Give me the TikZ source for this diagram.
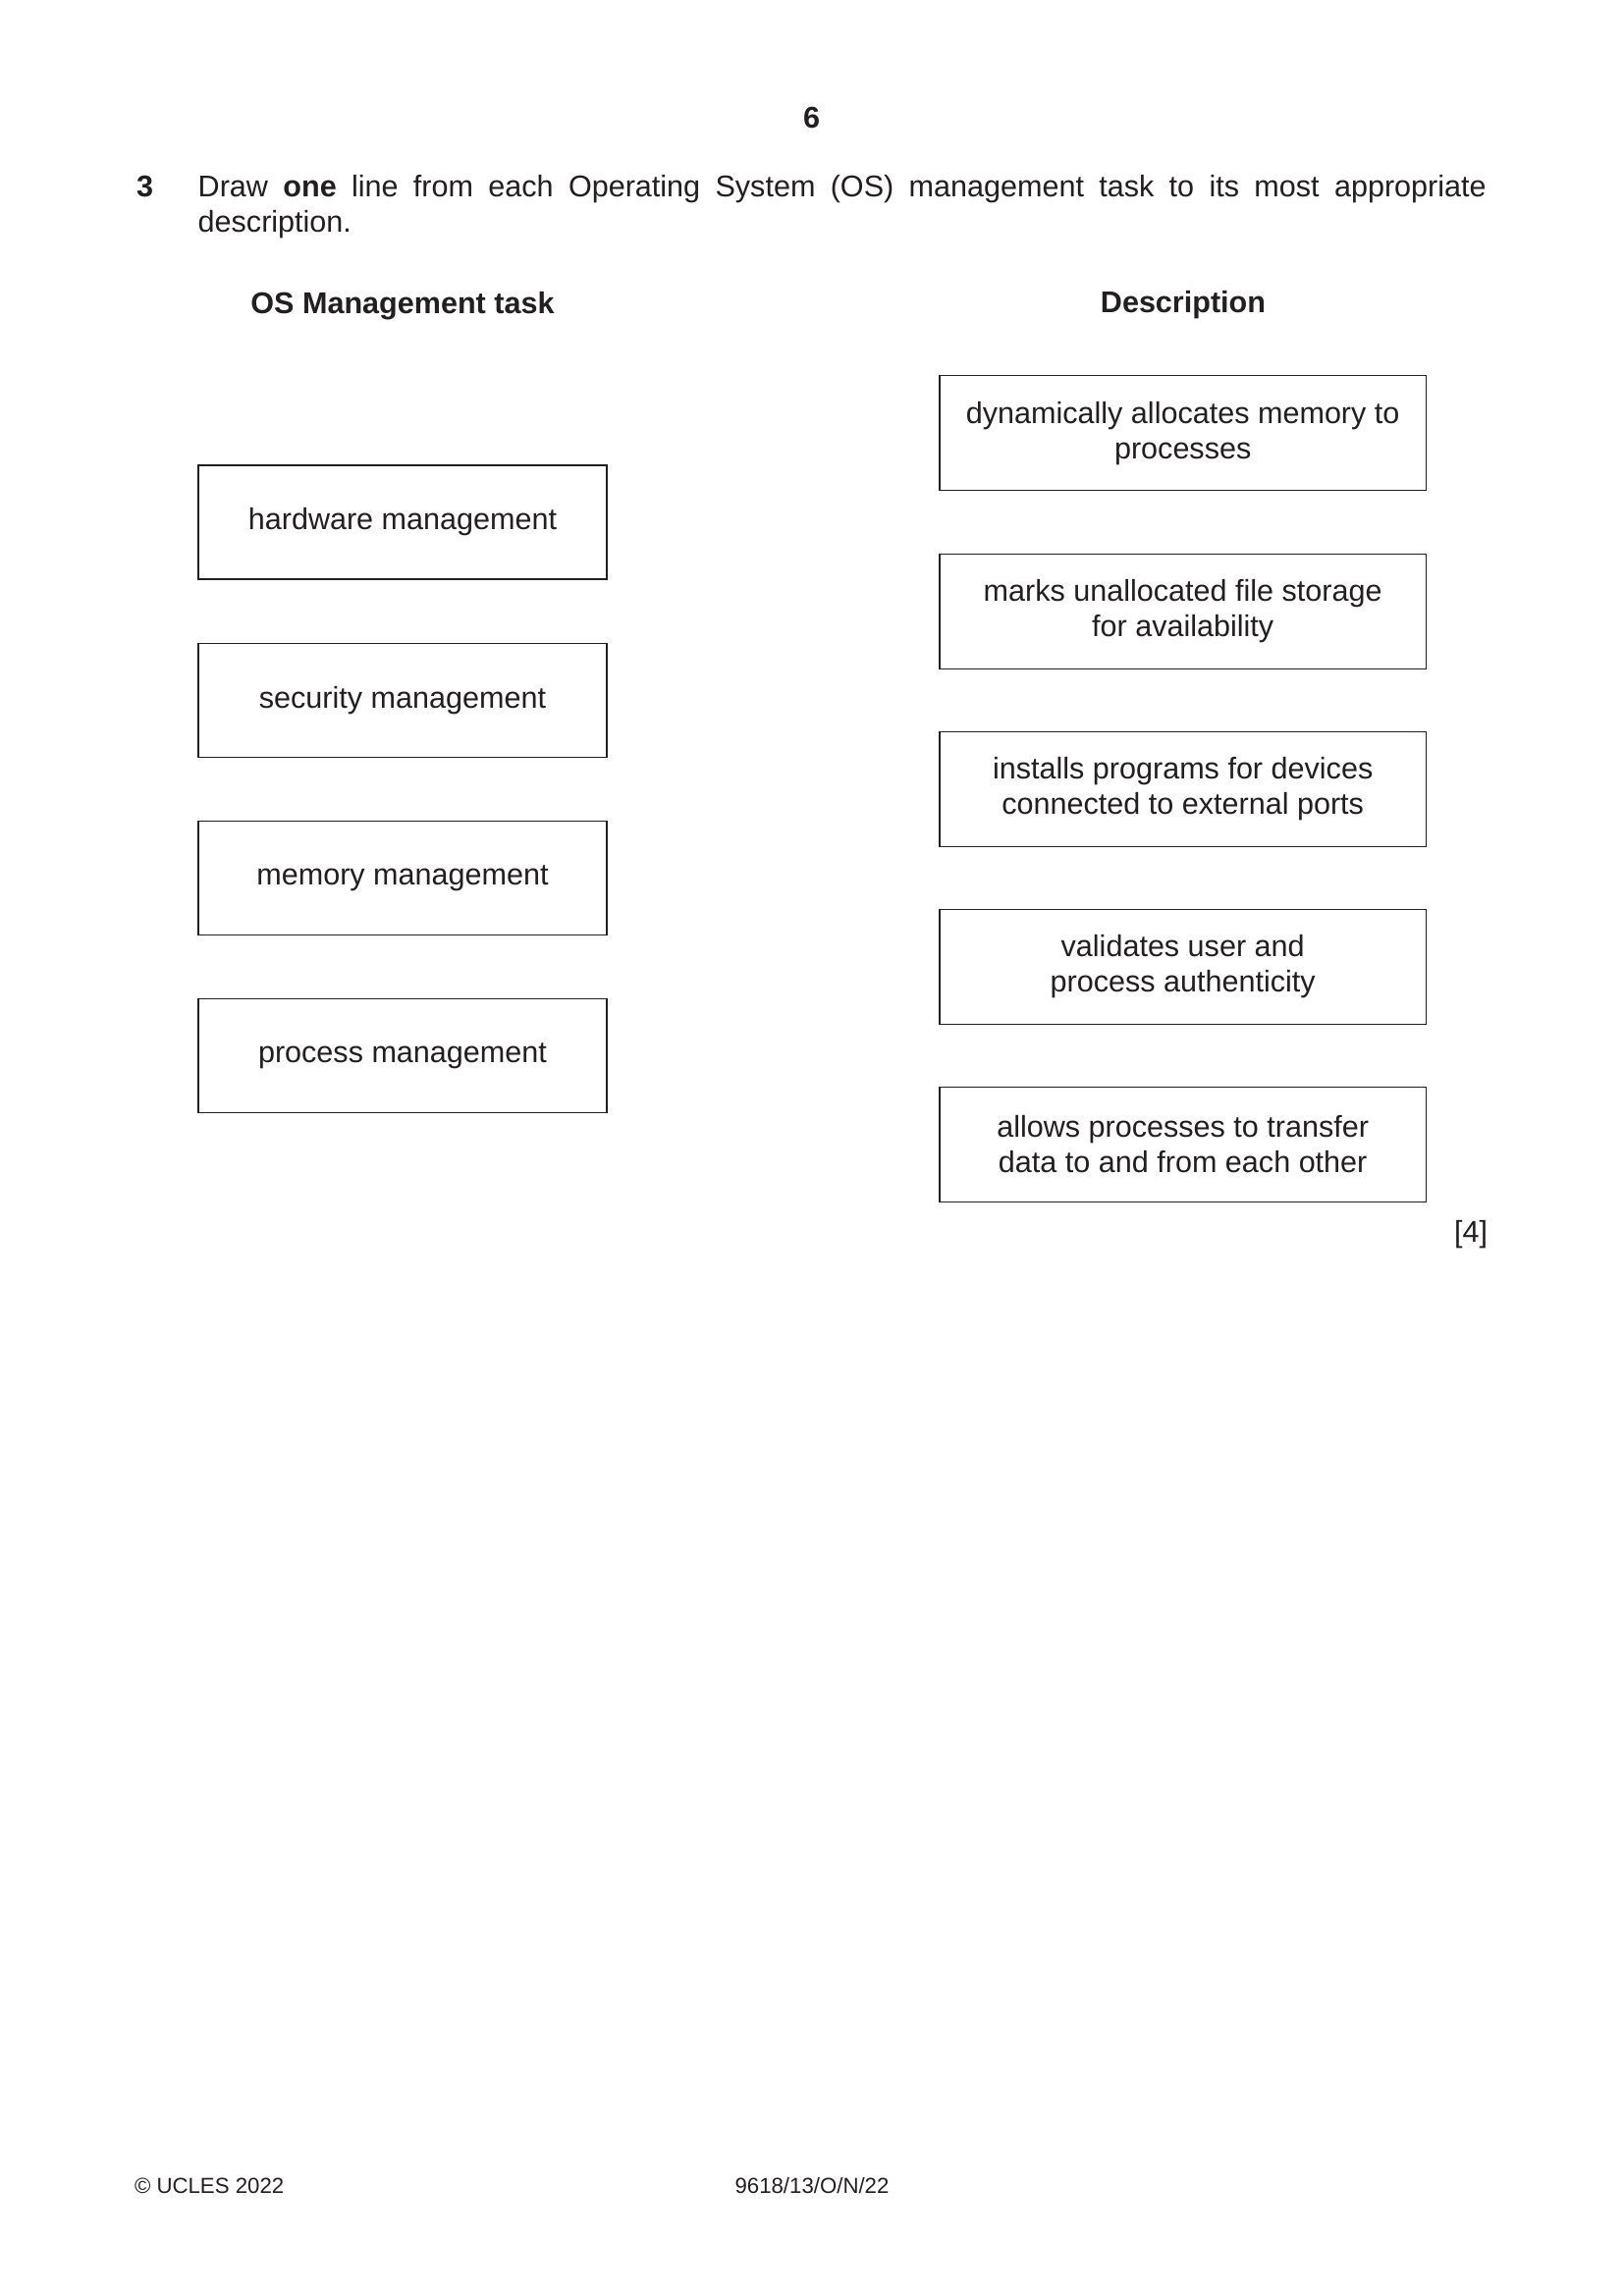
\documentclass[tikz,border=0pt]{standalone}
\usepackage{fontspec}
\setmainfont{Liberation Sans}
\definecolor{ink}{HTML}{231F20}
\begin{document}
\begin{tikzpicture}[x=0.3599pt,y=-0.3599pt,
  every node/.style={text=ink, inner sep=0pt, outer sep=0pt},
  body/.style={font=\fontsize{11}{13.2}\selectfont},
  head/.style={font=\fontsize{11}{13.2}\selectfont\bfseries},
  foot/.style={font=\fontsize{8}{9.6}\selectfont},
  taskbox/.style={draw=ink, line width=0.5pt, minimum width=149.7pt, minimum height=41.75pt,
    align=center, font=\fontsize{11}{12.9}\selectfont},
  descbox/.style={draw=ink, line width=0.5pt, minimum width=178.2pt, minimum height=42.1pt,
    align=center, font=\fontsize{11}{12.9}\selectfont}]
\useasboundingbox[fill=white] (0,0) rectangle (1654,2339);

\node[head, anchor=base] (pg) at (826.7,130.7) {6};
\node[head, anchor=base west] (qn) at (139,200) {3};
\node[body, anchor=base west, text width=472.2pt, align=justify] (qt) at (201.7,200)
  {Draw \textbf{one} line from each Operating System (OS) management task to its most appropriate\linebreak description.};

\node[head, anchor=base] (lh) at (410,319) {OS Management task};
\node[head, anchor=base] (rh) at (1205,318) {Description};

\node[taskbox] (t1) at (410,532) {hardware management};
\node[taskbox] (t2) at (410,713.2) {security management};
\node[taskbox] (t3) at (410,894.3) {memory management};
\node[taskbox] (t4) at (410,1075.4) {process management};

\node[descbox] (d1) at (1204.7,441.2) {dynamically allocates memory to\\processes};
\node[descbox] (d2) at (1204.7,622.7) {marks unallocated file storage\\for availability};
\node[descbox] (d3) at (1204.7,804) {installs programs for devices\\connected to external ports};
\node[descbox] (d4) at (1204.7,984.8) {validates user and\\process authenticity};
\node[descbox] (d5) at (1204.7,1165.9) {allows processes to transfer\\data to and from each other};

\node[body, anchor=base east] (mk) at (1515,1265) {[4]};

\node[foot, anchor=base west] (cp) at (137,2234) {© UCLES 2022};
\node[foot, anchor=base] (code) at (827,2234) {9618/13/O/N/22};
\end{tikzpicture}
\end{document}
